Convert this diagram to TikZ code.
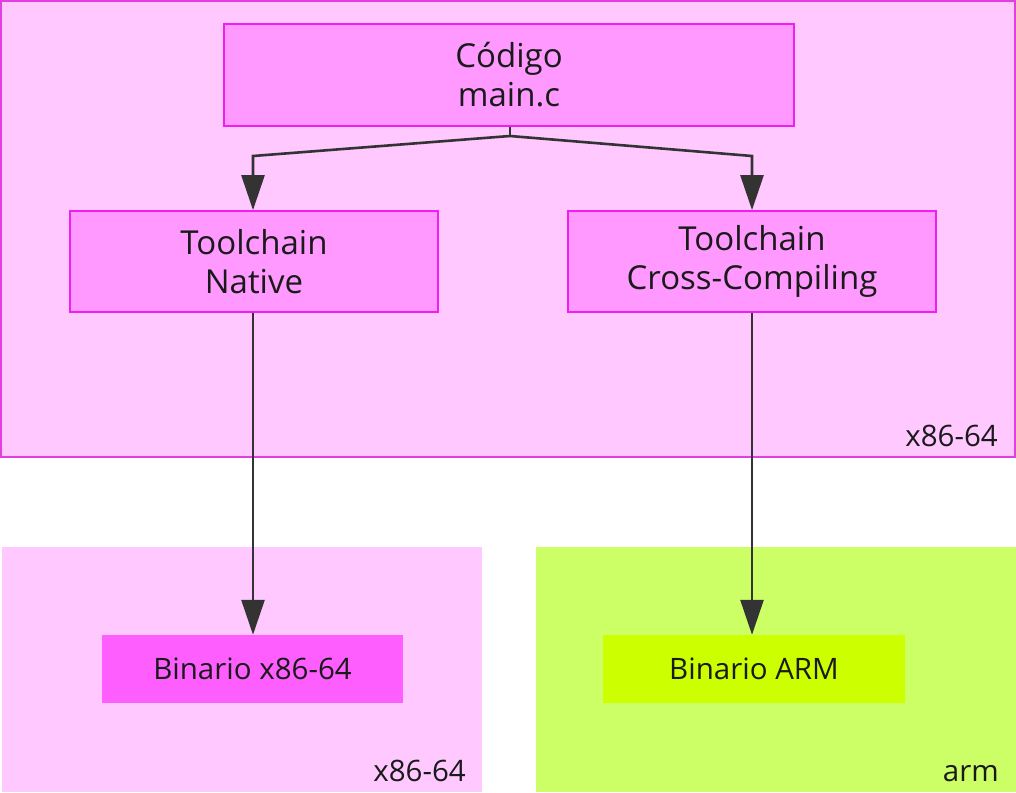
\documentclass[tikz,border=0pt]{standalone}
\usepackage{fontspec}
\setmainfont{Open Sans}
\usetikzlibrary{arrows.meta}
\definecolor{clfill}{HTML}{FFC8FF}
\definecolor{clborder}{HTML}{E040E0}
\definecolor{boxfill}{HTML}{FF99FF}
\definecolor{boxborder}{HTML}{F01EF0}
\definecolor{binxfill}{HTML}{FF5EFF}
\definecolor{armcl}{HTML}{CCFF66}
\definecolor{armbox}{HTML}{CCFF00}
\definecolor{linec}{HTML}{333333}
\definecolor{txt}{HTML}{1A1A1A}
\begin{document}
\begin{tikzpicture}[x=1pt,y=-1pt,
  bigfont/.style={font=\fontsize{33}{39}\selectfont, text=txt},
  smallfont/.style={font=\fontsize{29.5}{36}\selectfont, text=txt},
  box/.style={draw=boxborder, line width=1.8pt, fill=boxfill, align=center, inner sep=0pt, bigfont},
  binbox/.style={draw=none, align=center, inner sep=0pt, smallfont},
  cllabel/.style={anchor=base east, inner sep=0pt, smallfont},
  conn/.style={draw=linec, line width=2.6pt, -{Triangle[length=35pt,width=23pt]}}
]
\useasboundingbox (0,0) rectangle (1016,792);
% clusters
\fill[clfill] (1,1) rectangle (1015,457);
\draw[clborder, line width=1.2pt] (1,1) rectangle (1015,457);
\fill[clfill] (2,547) rectangle (482,792);
\fill[armcl] (536,547) rectangle (1016,792);
\node[cllabel] (l1) at (998,446) {x86-64};
\node[cllabel] (l2) at (466,781) {x86-64};
\node[cllabel] (l3) at (999,781) {arm};
% nodes
\node[box, minimum width=570pt, minimum height=102pt] (code) at (509,75) {Código\\main.c};
\node[box, minimum width=368pt, minimum height=101pt] (native) at (254,261.5) {Toolchain\\Native};
\node[box, minimum width=368pt, minimum height=101pt] (cross) at (752,261.5) {Toolchain\\Cross-Compiling};
\node[binbox, fill=binxfill, minimum width=301pt, minimum height=68pt] (binx) at (252.5,669) {Binario x86-64};
\node[binbox, fill=armbox, minimum width=302pt, minimum height=68pt] (binarm) at (754,669) {Binario ARM};
% connectors
\coordinate (split) at (510,136);
\draw[draw=linec, line width=2.6pt] (code.south -| split) -- (split);
\draw[conn] (split) -- (253,156) -- (native.north -| 253,0);
\draw[conn] (split) -- (752,156) -- (cross.north);
\draw[conn] (native.south -| 253,0) -- (binx.north -| 253,0);
\draw[conn] (cross.south) -- (binarm.north -| cross.south);
\end{tikzpicture}
\end{document}
